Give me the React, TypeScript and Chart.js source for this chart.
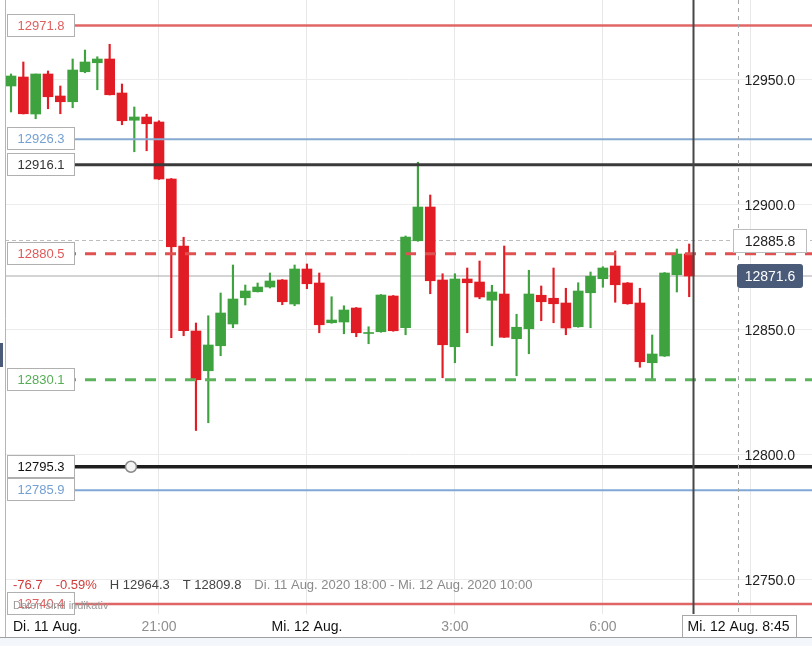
import { useEffect, useRef } from "react";
import { Chart, registerables } from "chart.js";

Chart.register(...registerables);

// 15-minute candles, Di. 11 Aug. 18:00 -> Mi. 12 Aug. 7:45 (index 0 = 18:00)
const OPEN = [
  12947.6, 12951.2, 12936.4, 12952.4, 12943.6, 12941.3, 12953.3, 12956.9, 12958.4, 12944.8,
  12933.9, 12935.2, 12933.2, 12910.4, 12883.6, 12849.6, 12833.7, 12843.7, 12852.4, 12862.9,
  12865.3, 12867.2, 12870.0, 12860.4, 12874.4, 12868.8, 12852.9, 12853.2, 12858.8, 12848.6,
  12849.3, 12863.6, 12850.9, 12885.7, 12899.2, 12870.0, 12843.3, 12870.4, 12869.2, 12861.9,
  12864.4, 12846.5, 12850.5, 12863.9, 12862.7, 12860.8, 12851.3, 12864.9, 12870.5, 12875.6,
  12868.8, 12860.8, 12836.9, 12839.6, 12872.1, 12880.4,
];
const HIGH = [
  12952.4, 12957.2, 12952.4, 12953.6, 12947.6, 12958.4, 12962.0, 12959.3, 12964.3, 12948.4,
  12939.2, 12936.3, 12933.7, 12910.6, 12887.1, 12852.8, 12855.7, 12864.8, 12876.0, 12868.0,
  12868.8, 12872.8, 12870.2, 12876.0, 12876.4, 12872.8, 12863.3, 12859.7, 12859.0, 12851.3,
  12864.2, 12863.8, 12887.6, 12917.1, 12904.0, 12872.5, 12872.5, 12874.8, 12877.6, 12867.9,
  12883.6, 12856.3, 12873.9, 12867.6, 12874.8, 12866.7, 12868.9, 12873.2, 12875.3, 12881.6,
  12869.0, 12866.7, 12848.0, 12873.0, 12882.4, 12884.4,
];
const LOW = [
  12937.2, 12936.4, 12934.5, 12938.5, 12936.5, 12938.9, 12952.9, 12946.1, 12944.0, 12932.1,
  12921.3, 12921.7, 12910.2, 12846.9, 12847.7, 12809.8, 12812.9, 12839.7, 12850.9, 12860.0,
  12865.2, 12866.8, 12860.1, 12859.7, 12866.5, 12848.9, 12852.7, 12848.5, 12847.3, 12844.5,
  12849.1, 12849.5, 12848.1, 12885.5, 12864.5, 12830.9, 12836.9, 12848.9, 12862.5, 12843.7,
  12847.0, 12831.7, 12840.5, 12853.7, 12852.9, 12848.1, 12851.1, 12850.9, 12867.1, 12861.1,
  12860.3, 12835.1, 12829.7, 12839.4, 12865.2, 12863.3,
];
const CLOSE = [
  12951.6, 12936.5, 12952.4, 12943.3, 12941.3, 12954.0, 12957.2, 12958.4, 12944.1, 12933.7,
  12935.2, 12932.5, 12910.4, 12883.3, 12849.7, 12830.1, 12844.0, 12856.8, 12862.4, 12865.6,
  12867.2, 12869.6, 12861.3, 12874.4, 12868.5, 12852.1, 12854.0, 12858.0, 12848.9, 12848.9,
  12864.0, 12849.7, 12887.2, 12899.2, 12869.7, 12844.1, 12870.4, 12868.9, 12863.2, 12865.2,
  12847.1, 12851.1, 12864.4, 12861.3, 12860.5, 12850.8, 12865.6, 12871.5, 12874.8, 12868.1,
  12860.5, 12837.3, 12840.4, 12872.8, 12880.4, 12871.6,
];

// horizontal drawing levels (left labels)
const LEVELS = [12971.8, 12926.3, 12916.1, 12880.5, 12830.1, 12795.3, 12785.9, 12740.4];
const LEVEL_LABELS = ["12971.8", "12926.3", "12916.1", "12880.5", "12830.1", "12795.3", "12785.9", "12740.4"];

const Y_TICKS = [12750, 12800, 12850, 12900, 12950];
const Y_TICK_LABELS = ["12750.0", "12800.0", "12850.0", "12900.0", "12950.0"];
const X_LABEL_INDEX = [0, 12, 24, 36, 48];
const X_LABELS = ["Di. 11 Aug.", "21:00", "Mi. 12 Aug.", "3:00", "6:00"];
const X_LABEL_IS_DATE = [true, false, true, false, false];
const X_GRID_INDEX = [12, 24, 36, 48, 60];

const LAST_PRICE = 12871.6;
const LAST_LABEL = "12871.6";
const MARK_PRICE = 12885.8;
const MARK_LABEL = "12885.8";
const CURSOR_INDEX = 59;
const CURSOR_LABEL = "Mi. 12 Aug. 8:45";
const VLINE_INDEX = 55.35;
const ANCHOR_INDEX = 9.73;
const ANCHOR_PRICE = 12795.3;

const INFO_TEXTS = ["-76.7", "-0.59%", "H 12964.3", "T 12809.8", "Di. 11 Aug. 2020 18:00 - Mi. 12 Aug. 2020 10:00"];
const DISCLAIMER = "Daten sind indikativ";

// scale ranges
const X_MIN = -0.487;
const X_MAX = 64.96;
const Y_MIN = 12736.4;
const Y_MAX = 12982;

// styles
const UP = "#3ea33e";
const DOWN = "#e21c24";
const LEVEL_STYLES = [
  { color: "#e06666", width: 2.5, dash: [] as number[], text: "#e06060" },
  { color: "#86a9cf", width: 2, dash: [] as number[], text: "#74a0d2" },
  { color: "#3a3a3a", width: 3, dash: [] as number[], text: "#333333" },
  { color: "#e05252", width: 3, dash: [11, 9], text: "#e05a5a" },
  { color: "#5db35d", width: 3, dash: [11, 9], text: "#55ad55" },
  { color: "#1e1e1e", width: 3.5, dash: [] as number[], text: "#111111" },
  { color: "#80a8d6", width: 2, dash: [] as number[], text: "#74a0d2" },
  { color: "#e06666", width: 2.5, dash: [] as number[], text: "#e06060" },
];
const INFO_COLORS = ["#d23b3b", "#d23b3b", "#444444", "#444444", "#8a8a8a"];
const FONT = "'Liberation Sans', Arial, sans-serif";

const overlayPlugin = {
  id: "overlay",
  afterDraw(chart: any) {
    const ctx = chart.ctx as CanvasRenderingContext2D;
    const xs = chart.scales.x;
    const ys = chart.scales.y;
    const area = chart.chartArea;
    ctx.save();

    // y axis labels (inside, right)
    ctx.font = `14px ${FONT}`;
    ctx.textAlign = "right";
    ctx.textBaseline = "middle";
    ctx.fillStyle = "#222222";
    Y_TICKS.forEach((v, i) => {
      ctx.fillText(Y_TICK_LABELS[i], area.right - 17, ys.getPixelForValue(v) + 1);
    });

    // left level labels
    ctx.textAlign = "center";
    ctx.font = `13px ${FONT}`;
    LEVELS.forEach((v, i) => {
      const y = Math.round(ys.getPixelForValue(v));
      ctx.fillStyle = "#ffffff";
      ctx.fillRect(area.left, y - 12, 75 - area.left, 24);
      ctx.strokeStyle = "#b0b0b0";
      ctx.lineWidth = 1;
      ctx.strokeRect(7.5, y - 11.5, 67, 22);
      ctx.fillStyle = LEVEL_STYLES[i].text;
      ctx.fillText(LEVEL_LABELS[i], 41, y);
    });

    // left border
    ctx.strokeStyle = "#b5b5b5";
    ctx.lineWidth = 1;
    ctx.beginPath();
    ctx.moveTo(area.left + 0.5, 0);
    ctx.lineTo(area.left + 0.5, 637);
    ctx.stroke();
    ctx.fillStyle = "#4a5a79";
    ctx.fillRect(0, 343, 3, 24);

    // info row
    ctx.textAlign = "left";
    ctx.font = `13px ${FONT}`;
    let x = 13;
    INFO_TEXTS.forEach((t, i) => {
      ctx.fillStyle = INFO_COLORS[i];
      ctx.fillText(t, x, 585);
      x += ctx.measureText(t).width + 13;
    });
    ctx.font = `11px ${FONT}`;
    ctx.fillStyle = "#9a9a9a";
    ctx.fillText(DISCLAIMER, 13, 606);

    // right labels
    ctx.font = `14px ${FONT}`;
    ctx.textAlign = "center";
    const ym = Math.round(ys.getPixelForValue(MARK_PRICE));
    ctx.fillStyle = "#ffffff";
    ctx.fillRect(733.5, ym - 11.5, 73, 23);
    ctx.strokeStyle = "#bdbdbd";
    ctx.strokeRect(733.5, ym - 11.5, 73, 23);
    ctx.fillStyle = "#222222";
    ctx.fillText(MARK_LABEL, 770, ym + 1);

    const yl = Math.round(ys.getPixelForValue(LAST_PRICE));
    ctx.fillStyle = "#4a5a79";
    ctx.beginPath();
    (ctx as any).roundRect(737, yl - 12, 66, 24, 3);
    ctx.fill();
    ctx.fillStyle = "#ffffff";
    ctx.fillText(LAST_LABEL, 770, yl + 1);

    // x labels
    ctx.font = `14px ${FONT}`;
    X_LABELS.forEach((t, i) => {
      const px = xs.getPixelForValue(X_LABEL_INDEX[i]);
      ctx.fillStyle = X_LABEL_IS_DATE[i] ? "#111111" : "#8f8f8f";
      if (i === 0) {
        ctx.textAlign = "left";
        ctx.fillText(t, px + 2, 627);
      } else {
        ctx.textAlign = "center";
        ctx.fillText(t, px, 627);
      }
    });

    // cursor label
    const cx = xs.getPixelForValue(CURSOR_INDEX);
    const tw = ctx.measureText(CURSOR_LABEL).width;
    const bx = Math.round(cx - tw / 2 - 6) + 0.5;
    ctx.fillStyle = "#ffffff";
    ctx.fillRect(bx, 615.5, Math.round(tw + 12), 22);
    ctx.strokeStyle = "#a8a8a8";
    ctx.strokeRect(bx, 615.5, Math.round(tw + 12), 22);
    ctx.fillStyle = "#111111";
    ctx.textAlign = "center";
    ctx.fillText(CURSOR_LABEL, cx, 627);

    // navigator strip
    ctx.strokeStyle = "#a0a0a0";
    ctx.beginPath();
    ctx.moveTo(0, 637.5);
    ctx.lineTo(812, 637.5);
    ctx.stroke();
    ctx.fillStyle = "#f3f7fc";
    ctx.fillRect(0, 638, 812, 8);

    ctx.restore();
  },
};

export default function App() {
  const ref = useRef<HTMLCanvasElement | null>(null);

  useEffect(() => {
    document.body.style.margin = "0";
    if (!ref.current) return;
    const idx = OPEN.map((_, i) => i);
    const colors = idx.map((i) => (CLOSE[i] >= OPEN[i] ? UP : DOWN));
    const hline = (v: number) => [
      { x: X_MIN, y: v },
      { x: X_MAX, y: v },
    ];

    const levelSets = LEVELS.map((v, i) => ({
      type: "line" as const,
      data: hline(v),
      borderColor: LEVEL_STYLES[i].color,
      borderWidth: LEVEL_STYLES[i].width,
      borderDash: LEVEL_STYLES[i].dash,
      pointRadius: 0,
      order: 1,
    }));

    const chart = new Chart(ref.current, {
      type: "bar",
      data: {
        datasets: [
          {
            type: "line",
            data: hline(LAST_PRICE),
            borderColor: "#a9a9a9",
            borderWidth: 1,
            pointRadius: 0,
            order: 8,
          } as any,
          {
            type: "line",
            data: hline(MARK_PRICE),
            borderColor: "#bdbdbd",
            borderWidth: 1,
            borderDash: [4, 3],
            pointRadius: 0,
            order: 8,
          } as any,
          {
            type: "bar",
            data: idx.map((i) => ({ x: i, y: [LOW[i], HIGH[i]] })),
            backgroundColor: colors,
            barThickness: 1.5,
            grouped: false,
            borderWidth: 0,
            order: 6,
          } as any,
          {
            type: "bar",
            data: idx.map((i) => ({ x: i, y: [OPEN[i], CLOSE[i]] })),
            backgroundColor: colors,
            barThickness: 10,
            grouped: false,
            borderWidth: 0,
            minBarLength: 1,
            order: 5,
          } as any,
          ...levelSets,
          {
            type: "line",
            data: [
              { x: CURSOR_INDEX, y: Y_MAX },
              { x: CURSOR_INDEX, y: Y_MIN },
            ],
            borderColor: "#a5a5a5",
            borderWidth: 1,
            borderDash: [4, 4],
            pointRadius: 0,
            order: 0,
          } as any,
          {
            type: "line",
            data: [
              { x: VLINE_INDEX, y: Y_MAX },
              { x: VLINE_INDEX, y: Y_MIN },
            ],
            borderColor: "#474747",
            borderWidth: 2,
            pointRadius: 0,
            order: 0,
          } as any,
          {
            type: "line",
            data: [{ x: ANCHOR_INDEX, y: ANCHOR_PRICE }],
            showLine: false,
            pointRadius: 5.5,
            pointBackgroundColor: "#f4f4f4",
            pointBorderColor: "#8a8a8a",
            pointBorderWidth: 1.5,
            order: 0,
          } as any,
        ],
      },
      options: {
        animation: false,
        responsive: true,
        maintainAspectRatio: false,
        layout: { autoPadding: false, padding: { left: 5, right: 0, top: 0, bottom: 0 } },
        plugins: { legend: { display: false }, tooltip: { enabled: false } },
        font: { family: FONT },
        scales: {
          x: {
            type: "linear",
            min: X_MIN,
            max: X_MAX,
            offset: false,
            grid: { color: "#e8e8e8", drawTicks: false, offset: false },
            border: { display: false },
            ticks: { display: false },
            afterBuildTicks: (s: any) => {
              s.ticks = X_GRID_INDEX.map((v) => ({ value: v }));
            },
            afterFit: (s: any) => {
              s.height = 32;
              s.paddingLeft = 0;
              s.paddingRight = 0;
            },
          },
          y: {
            type: "linear",
            position: "right",
            min: Y_MIN,
            max: Y_MAX,
            grid: { color: "#ececec", drawTicks: false },
            border: { display: false },
            ticks: { display: false },
            afterBuildTicks: (s: any) => {
              s.ticks = Y_TICKS.map((v) => ({ value: v }));
            },
            afterFit: (s: any) => {
              s.width = 0;
              s.paddingTop = 0;
              s.paddingBottom = 0;
            },
          },
        },
      } as any,
      plugins: [overlayPlugin],
    });
    return () => chart.destroy();
  }, []);

  return (
    <div style={{ width: 812, height: 646, position: "relative", background: "#fff" }}>
      <canvas ref={ref} />
    </div>
  );
}
